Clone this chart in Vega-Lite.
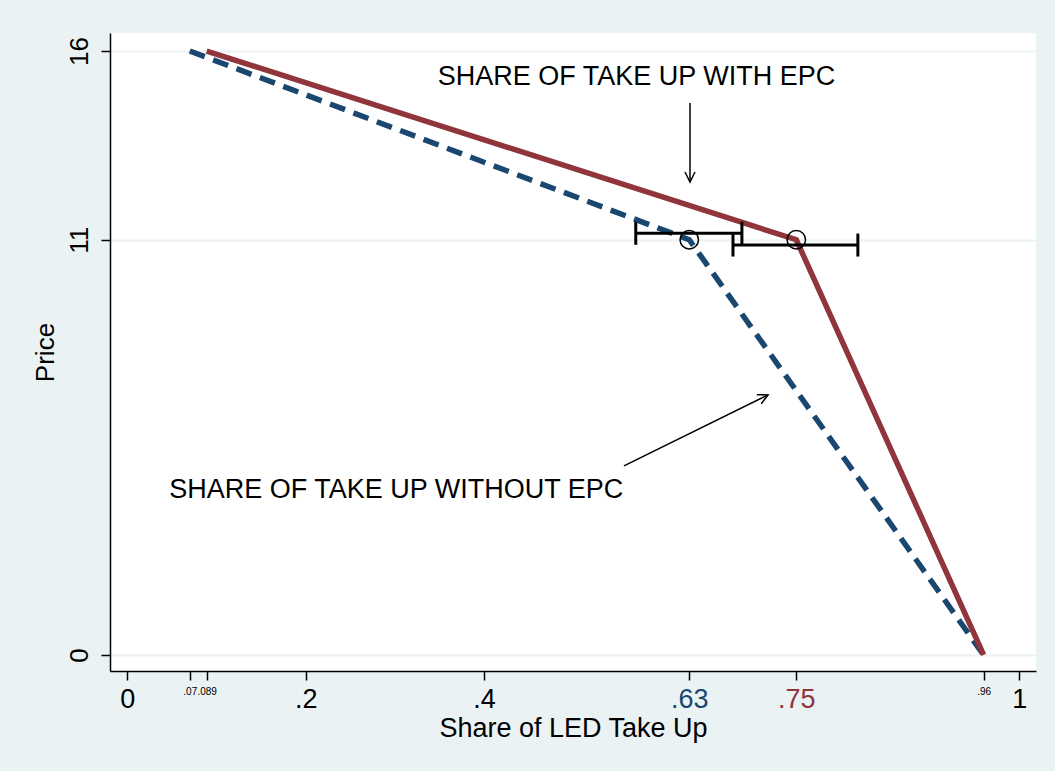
{
  "$schema": "https://vega.github.io/schema/vega-lite/v6.json",
  "width": 926,
  "height": 638,
  "autosize": {"type": "none"},
  "padding": {"left": 110, "top": 33, "right": 19, "bottom": 100},
  "background": "#EAF2F3",
  "config": {
    "view": {"fill": "white", "stroke": null},
    "font": "Liberation Sans",
    "axis": {
      "domainColor": "black",
      "domainWidth": 1.5,
      "tickColor": "black",
      "tickWidth": 1.5,
      "tickSize": 9,
      "labelColor": "black",
      "titleColor": "black",
      "titleFont": "Liberation Sans",
      "labelFont": "Liberation Sans",
      "titleFontWeight": "normal",
      "labelOverlap": false,
      "labelBound": false,
      "labelFlush": false
    }
  },
  "datasets": {
    "curves": [
      {"series": "without", "share": 0.07, "price": 16},
      {"series": "without", "share": 0.63, "price": 11},
      {"series": "without", "share": 0.96, "price": 0},
      {"series": "with", "share": 0.089, "price": 16},
      {"series": "with", "share": 0.75, "price": 11},
      {"series": "with", "share": 0.96, "price": 0}
    ],
    "ci": [
      {"series": "without", "lo": 0.570, "hi": 0.689, "price": 11.17},
      {"series": "with", "lo": 0.679, "hi": 0.819, "price": 10.86}
    ],
    "points": [
      {"series": "without", "share": 0.63, "price": 11},
      {"series": "with", "share": 0.75, "price": 11}
    ],
    "arrows": [
      {"id": "with", "x1": 0.6308, "y1": 14.62, "x2": 0.6308, "y2": 12.53},
      {"id": "without", "x1": 0.5568, "y1": 5.01, "x2": 0.7183, "y2": 6.89}
    ],
    "notes": [
      {"label": "SHARE OF TAKE UP WITH EPC", "share": 0.348, "price": 15.31},
      {"label": "SHARE OF TAKE UP WITHOUT EPC", "share": 0.047, "price": 4.37}
    ]
  },
  "layer": [
    {
      "data": {"name": "curves"},
      "transform": [{"filter": "datum.series == 'without'"}],
      "mark": {"type": "line", "color": "#1A476F", "strokeWidth": 5.5, "strokeDash": [16, 9], "strokeCap": "butt"},
      "encoding": {
        "x": {
          "field": "share", "type": "quantitative",
          "scale": {"domain": [-0.0194, 1.0187], "nice": false, "zero": false},
          "axis": {
            "title": "Share of LED Take Up",
            "titleFontSize": 27,
            "titlePadding": 3,
            "values": [0, 0.07, 0.089, 0.2, 0.4, 0.63, 0.75, 0.96, 1],
            "labelExpr": "datum.value == 0 ? '0' : datum.value == 1 ? '1' : slice(format(datum.value, '.3~f'), 1)",
            "labelFontSize": {"expr": "datum.value == 0.07 || datum.value == 0.089 || datum.value == 0.96 ? 10 : 27"},
            "labelColor": {"expr": "datum.value == 0.63 ? '#1A476F' : datum.value == 0.75 ? '#90353B' : 'black'"},
            "labelPadding": 6,
            "grid": false
          }
        },
        "y": {
          "field": "price", "type": "quantitative",
          "scale": {"domain": [-0.424, 16.477], "nice": false, "zero": false},
          "axis": {
            "title": "Price",
            "titleFontSize": 26,
            "values": [0, 11, 16],
            "labelAngle": -90,
            "labelAlign": "center",
            "labelBaseline": "bottom",
            "labelFontSize": 26,
            "labelPadding": 9,
            "titlePadding": 8,
            "grid": true,
            "gridColor": "#EAF2F3",
            "gridWidth": 2
          }
        },
        "order": {"field": "share"}
      }
    },
    {
      "data": {"name": "curves"},
      "transform": [{"filter": "datum.series == 'with'"}],
      "mark": {"type": "line", "color": "#90353B", "strokeWidth": 5.5, "strokeCap": "butt"},
      "encoding": {
        "x": {"field": "share", "type": "quantitative"},
        "y": {"field": "price", "type": "quantitative"},
        "order": {"field": "share"}
      }
    },
    {
      "data": {"name": "ci"},
      "mark": {"type": "rule", "color": "black", "strokeWidth": 3},
      "encoding": {
        "x": {"field": "lo", "type": "quantitative"},
        "x2": {"field": "hi"},
        "y": {"field": "price", "type": "quantitative"}
      }
    },
    {
      "data": {"name": "ci"},
      "mark": {"type": "tick", "orient": "vertical", "color": "black", "thickness": 3, "size": 23, "opacity": 1},
      "encoding": {
        "x": {"field": "lo", "type": "quantitative"},
        "y": {"field": "price", "type": "quantitative"}
      }
    },
    {
      "data": {"name": "ci"},
      "mark": {"type": "tick", "orient": "vertical", "color": "black", "thickness": 3, "size": 23, "opacity": 1},
      "encoding": {
        "x": {"field": "hi", "type": "quantitative"},
        "y": {"field": "price", "type": "quantitative"}
      }
    },
    {
      "data": {"name": "points"},
      "mark": {"type": "point", "shape": "circle", "filled": false, "stroke": "black", "strokeWidth": 1.5, "size": 340, "opacity": 1},
      "encoding": {
        "x": {"field": "share", "type": "quantitative"},
        "y": {"field": "price", "type": "quantitative"}
      }
    },
    {
      "data": {"name": "arrows"},
      "mark": {"type": "rule", "color": "black", "strokeWidth": 1.5},
      "encoding": {
        "x": {"field": "x1", "type": "quantitative"},
        "y": {"field": "y1", "type": "quantitative"},
        "x2": {"field": "x2"},
        "y2": {"field": "y2"}
      }
    },
    {
      "data": {"name": "arrows"},
      "transform": [{"filter": "datum.id == 'with'"}],
      "mark": {"type": "point", "shape": "M-0.5,-1L0,0L0.5,-1", "filled": false, "stroke": "black", "strokeWidth": 1.5, "size": 400, "opacity": 1, "angle": 0},
      "encoding": {
        "x": {"field": "x2", "type": "quantitative"},
        "y": {"field": "y2", "type": "quantitative"}
      }
    },
    {
      "data": {"name": "arrows"},
      "transform": [{"filter": "datum.id == 'without'"}],
      "mark": {"type": "point", "shape": "M-0.5,-1L0,0L0.5,-1", "filled": false, "stroke": "black", "strokeWidth": 1.5, "size": 400, "opacity": 1, "angle": 244},
      "encoding": {
        "x": {"field": "x2", "type": "quantitative"},
        "y": {"field": "y2", "type": "quantitative"}
      }
    },
    {
      "data": {"name": "notes"},
      "mark": {"type": "text", "align": "left", "baseline": "middle", "fontSize": 27, "font": "Liberation Sans", "color": "black"},
      "encoding": {
        "x": {"field": "share", "type": "quantitative"},
        "y": {"field": "price", "type": "quantitative"},
        "text": {"field": "label"}
      }
    }
  ]
}
